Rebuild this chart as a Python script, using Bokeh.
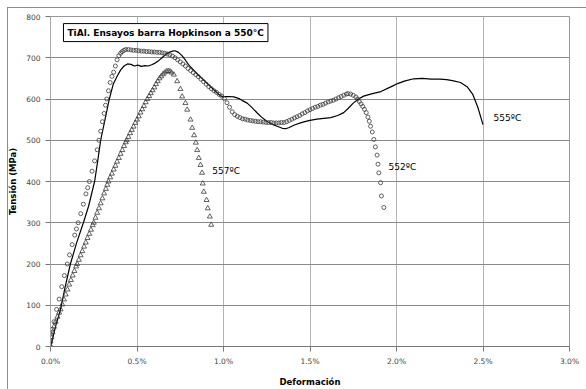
from bokeh.plotting import figure
from bokeh.models import Label, PrintfTickFormatter, FixedTicker, Range1d, InlineStyleSheet
from bokeh.embed import file_html
from bokeh.resources import INLINE

# ---- data (Deformación in %, Tensión in MPa) ----
t552_x = [0.000, 0.000, 0.002, 0.010, 0.020, 0.035, 0.050, 0.065, 0.080, 0.097, 0.110, 0.125, 0.140, 0.150,
          0.160, 0.175, 0.190, 0.205, 0.215, 0.225, 0.240, 0.255, 0.270, 0.280, 0.290, 0.300, 0.310, 0.318,
          0.325, 0.335, 0.345, 0.355, 0.365, 0.375, 0.385, 0.395, 0.405, 0.414, 0.425, 0.435, 0.450, 0.465,
          0.480, 0.495, 0.510, 0.525, 0.540, 0.555, 0.570, 0.585, 0.600, 0.615, 0.630, 0.645, 0.660, 0.675,
          0.690, 0.705, 0.720, 0.735, 0.750, 0.765, 0.780, 0.795, 0.810, 0.825, 0.840, 0.855, 0.870, 0.885,
          0.900, 0.915, 0.930, 0.945, 0.960, 0.975, 0.990, 1.005, 1.020, 1.035, 1.050, 1.065, 1.080, 1.095,
          1.110, 1.125, 1.140, 1.155, 1.170, 1.185, 1.200, 1.215, 1.230, 1.245, 1.260, 1.275, 1.290, 1.305,
          1.320, 1.335, 1.350, 1.365, 1.380, 1.395, 1.410, 1.425, 1.440, 1.455, 1.470, 1.485, 1.500, 1.515,
          1.530, 1.545, 1.560, 1.575, 1.590, 1.605, 1.620, 1.635, 1.650, 1.665, 1.680, 1.695, 1.710, 1.720,
          1.735, 1.750, 1.765, 1.775, 1.785, 1.795, 1.805, 1.815, 1.825, 1.835, 1.843, 1.850, 1.860, 1.869,
          1.878, 1.888, 1.893, 1.898, 1.908, 1.913, 1.927]
t552_y = [0, 15, 30, 42, 60, 90, 115, 145, 172, 200, 222, 247, 270, 285,
          300, 322, 345, 370, 385, 400, 425, 450, 477, 500, 522, 545, 565, 585,
          600, 620, 640, 655, 665, 680, 695, 705, 711, 715, 718, 720, 720, 719,
          718, 718, 717, 716, 716, 715, 715, 714, 714, 713, 713, 712, 711, 709,
          707, 704, 700, 695, 690, 685, 680, 674, 669, 664, 659, 654, 648, 642,
          636, 630, 625, 620, 616, 611, 607, 601, 591, 580, 569, 562, 558, 555,
          552, 551, 549, 548, 547, 546, 545, 545, 544, 543, 543, 543, 542, 542,
          542, 543, 543, 545, 548, 551, 554, 557, 560, 564, 567, 571, 574, 577,
          580, 582, 585, 587, 590, 593, 595, 597, 600, 603, 606, 609, 612, 613,
          612, 609, 605, 600, 594, 588, 582, 575, 567, 556, 546, 534, 520, 502,
          484, 464, 442, 421, 397, 365, 337]

t557_x = [0.000, 0.000, 0.005, 0.012, 0.020, 0.030, 0.040, 0.050, 0.058, 0.068, 0.078, 0.088, 0.098, 0.108,
          0.118, 0.128, 0.138, 0.148, 0.154, 0.164, 0.174, 0.184, 0.194, 0.204, 0.214, 0.224, 0.234, 0.244,
          0.250, 0.260, 0.270, 0.280, 0.290, 0.300, 0.310, 0.320, 0.328, 0.335, 0.345, 0.355, 0.365, 0.375,
          0.385, 0.395, 0.405, 0.415, 0.425, 0.435, 0.440, 0.450, 0.460, 0.470, 0.480, 0.490, 0.500, 0.510,
          0.520, 0.530, 0.540, 0.550, 0.560, 0.570, 0.580, 0.590, 0.600, 0.610, 0.620, 0.630, 0.640, 0.650,
          0.660, 0.670, 0.680, 0.690, 0.700, 0.713, 0.732, 0.751, 0.761, 0.780, 0.790, 0.809, 0.819, 0.830,
          0.840, 0.848, 0.857, 0.867, 0.876, 0.880, 0.886, 0.902, 0.909, 0.921, 0.929]
t557_y = [0, 12, 22, 35, 48, 60, 72, 82, 90, 102, 114, 126, 138, 150,
          161, 172, 183, 194, 200, 210, 221, 231, 242, 252, 263, 273, 283, 294,
          300, 312, 324, 335, 347, 359, 371, 382, 392, 400, 410, 419, 429, 438,
          448, 457, 467, 476, 486, 495, 500, 508, 517, 525, 533, 542, 550, 558,
          567, 575, 583, 592, 600, 607, 614, 621, 628, 636, 643, 650, 655, 660,
          664, 667, 668, 667, 664, 659, 643, 624, 606, 590, 574, 550, 530, 512,
          494, 476, 457, 440, 421, 395, 375, 355, 335, 315, 295]

t555_x = [0.000, 0.010, 0.030, 0.058, 0.085, 0.115, 0.150, 0.190, 0.220, 0.255, 0.273, 0.290, 0.315, 0.340,
          0.362, 0.385, 0.405, 0.425, 0.445, 0.465, 0.485, 0.505, 0.525, 0.545, 0.565, 0.585, 0.605, 0.625,
          0.645, 0.665, 0.685, 0.705, 0.720, 0.740, 0.760, 0.780, 0.800, 0.825, 0.850, 0.875, 0.900, 0.925,
          0.950, 0.970, 0.985, 1.000, 1.030, 1.060, 1.090, 1.110, 1.137, 1.165, 1.195, 1.220, 1.250, 1.280,
          1.310, 1.340, 1.360, 1.380, 1.410, 1.445, 1.470, 1.500, 1.540, 1.580, 1.620, 1.660, 1.695, 1.720,
          1.750, 1.780, 1.810, 1.850, 1.910, 1.970, 2.010, 2.050, 2.100, 2.150, 2.200, 2.250, 2.290, 2.330,
          2.370, 2.410, 2.440, 2.470, 2.500]
t555_y = [0, 15, 50, 90, 145, 200, 250, 300, 340, 400, 450, 500, 550, 600,
          635, 655, 670, 680, 685, 684, 680, 682, 679, 681, 680, 683, 687, 693,
          700, 708, 713, 716, 717, 713, 705, 694, 682, 671, 660, 650, 640, 630,
          620, 612, 607, 606, 606, 605, 601, 596, 590, 579, 566, 556, 546, 539,
          534, 529, 528, 531, 537, 542, 545, 548, 551, 553, 555, 560, 567, 577,
          590, 600, 607, 612, 618, 630, 638, 644, 649, 650, 648, 648, 647, 644,
          640, 629, 612, 580, 538]

x_ticks = [0.0, 0.5, 1.0, 1.5, 2.0, 2.5, 3.0]
y_ticks = [0, 100, 200, 300, 400, 500, 600, 700, 800]

title_text = "TiAl. Ensayos barra Hopkinson a 550°C"
series_labels = ["557ºC", "552ºC", "555ºC"]
label_x = [0.935, 1.954, 2.561]
label_y = [425, 435, 555]

# ---- figure ----
p = figure(width=586, height=389, x_range=Range1d(0, 3.0), y_range=Range1d(0, 800),
           output_backend="svg", toolbar_location=None,
           min_border_left=50, min_border_right=17, min_border_top=16, min_border_bottom=41,
           background_fill_color="white", border_fill_color="white")

p.stylesheets = [InlineStyleSheet(css=(
    ":host { position: relative; }"
    ":host::after { content: ''; position: absolute; left: 7px; top: 7px; right: 0; bottom: 0;"
    " border-left: 1px solid #8c8c8c; border-top: 1px solid #8c8c8c; pointer-events: none; }"))]

p.outline_line_color = "#999999"
p.xgrid.grid_line_color = "#b4b4b4"
p.ygrid.grid_line_color = "#8a8a8a"
p.xaxis.ticker = FixedTicker(ticks=x_ticks)
p.yaxis.ticker = FixedTicker(ticks=y_ticks)
p.xaxis.formatter = PrintfTickFormatter(format="%.1f%%")

for ax in (p.xaxis, p.yaxis):
    ax.major_tick_out = 5
    ax.major_tick_in = 0
    ax.minor_tick_line_color = None
    ax.major_label_text_font = "DejaVu Sans"
    ax.major_label_text_font_size = "7.5px"
    ax.major_label_text_color = "#444444"
    ax.axis_label_text_font = "DejaVu Sans"
    ax.axis_label_text_font_size = "8.5px"
    ax.axis_label_text_font_style = "bold"
    ax.axis_label_text_color = "black"
    ax.major_label_standoff = 5

p.xaxis.axis_line_color = "#777777"
p.xaxis.major_tick_line_color = "#777777"
p.yaxis.axis_line_color = "#aaaaaa"
p.yaxis.major_tick_line_color = "#777777"
p.xaxis.axis_label = "Deformación"
p.yaxis.axis_label = "Tensión (MPa)"
p.xaxis.axis_label_standoff = 8
p.yaxis.axis_label_standoff = 5

# ---- series ----
p.line(t555_x, t555_y, line_color="black", line_width=1.2)
p.scatter(t552_x, t552_y, marker="circle", size=4, fill_color=None,
          line_color="#3a3a3a", line_width=0.8)
p.scatter(t557_x, t557_y, marker="triangle", size=5, fill_color=None,
          line_color="#3a3a3a", line_width=0.8)

# ---- annotations ----
p.add_layout(Label(x=0.075, y=761, text=title_text, text_font="DejaVu Sans",
                   text_font_size="9px", text_font_style="bold", text_color="black",
                   text_baseline="middle", text_align="left",
                   border_line_color="black", border_line_width=1,
                   background_fill_color="white", padding=4))
for t, lx, ly in zip(series_labels, label_x, label_y):
    p.add_layout(Label(x=lx, y=ly, text=t, text_font="DejaVu Sans", text_font_size="9px",
                       text_color="black", text_baseline="middle", text_align="left"))

open("out.html", "w").write(file_html(p, INLINE))
